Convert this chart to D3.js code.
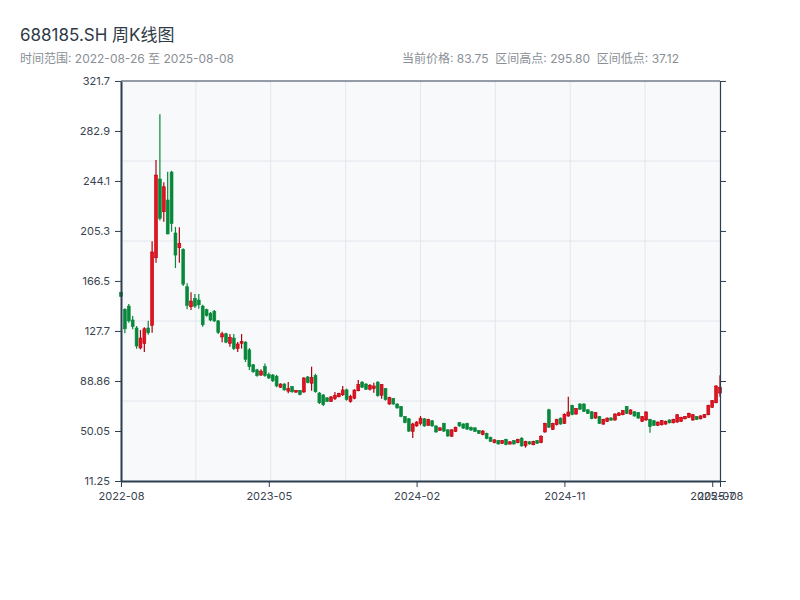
<!DOCTYPE html>
<html><head><meta charset="utf-8">
<script src="https://cdn.jsdelivr.net/npm/d3@7/dist/d3.min.js"></script>
<style>
body{margin:0;background:#fff;}
text{font-family:Inter,"Noto Sans CJK SC",sans-serif;}
</style>
</head><body>
<svg id="chart" width="800" height="600"></svg>
<script>
// ---- data ----
const startDate = "2022-08-26";
const opens  = [157.6,144.5,147.0,136.2,130.0,114.5,118.1,130.0,132.1,184.5,245.6,220.2,229.3,251.0,203.7,192.3,191.0,162.0,146.5,153.0,151.7,147.0,144.2,141.5,143.0,135.5,
123,125.5,118.1,122.2,114,118.1,119.1,113,101.5,97.5,93.5,100,93.8,93.5,92.5,84,86.5,81,84.5,80.2,81.5,80.3,92,87.1,93,79.5,
78,75.8,73,75.2,76.6,78.2,82,73,75.5,81.3,88,86.5,82.5,82.9,88,77.8,83,71,75.3,71,69,61.2,59.5,49.8,
54,56,59.5,54.5,58,54,50.6,56,51,46,49.8,56.5,55.5,56,52.8,52.5,50.5,47.2,48.3,45.2,41,42.7,40.4,43.6,39.9,42.6,
41,44.5,38.5,41.7,39.4,42.6,41,49.3,66.5,51.3,55,60,56,61.7,70,63.2,71,71,66.5,65,60.1,61.2,55.4,57.4,60.2,
58.6,62.2,62.7,69,63.2,65,64.3,57.5,58.6,59,58,54.5,54.9,55.4,58.6,56.4,57,57.5,59.5,60.6,58.6,61.3,59.5,60.6,62.7,68.4,72,79.5];
const highs  = [158.0,145.3,148.6,139.3,131.5,128.4,130.5,135.7,197.3,260.4,295.8,243.1,251.3,252.0,208.4,208.1,191.8,164.7,157.7,156.4,156.4,148.0,145.0,142.4,143.9,136.2,
127,126.3,125.3,125.3,119.1,125.3,119.6,114.5,102,98.4,98,102.5,95.5,94.3,93.7,87.1,87.1,88.1,85,81.9,81.9,91.7,92.7,100,94.5,80.3,
78.8,76.2,77.2,80.3,79.8,85,82.9,78.2,82.4,89.6,88.6,87.1,86.5,87.5,88.6,86.5,83.4,76.7,75.7,71.5,69.5,61.7,60.1,56.5,
57.6,61.7,60.1,59.6,58.6,54.4,52.9,56.5,51.3,51.3,53.4,57,56,56.5,53.5,52.9,50.8,50.8,48.7,45.6,43.6,43.1,43.1,44.1,42.1,43.1,
44.1,45.2,42.5,42.1,42.5,43.1,46.7,56.5,67.4,56.5,59.6,60.6,63.8,76.7,70.5,67.9,71.5,71.5,66.9,65.3,64.8,61.7,59.6,60.6,60.6,
63.8,64.8,66.4,69.5,66.9,65.3,64.8,61.7,65.3,59.6,58.6,57.5,58.6,58.1,59.1,59.6,63.2,61.2,61.7,64.3,63.2,61.7,62.2,63.2,70.5,74.1,85.5,93.3];
const lows   = [154.3,125.9,134.1,129.0,113.9,113.4,111.4,124.8,126.3,180.7,213.5,212.5,202.7,204.7,176.5,180.7,162.5,144.5,143.9,145.5,145.0,130.9,138.8,135.2,134.6,125.3,
119,118.1,115.5,112.9,111.4,114,103.6,97.4,95.3,92.2,92.7,92.2,90.5,88.1,84,83.4,81.3,79.3,79.8,79.8,77.8,79.8,87.1,81.3,79.8,71,
69.5,72.6,72.6,74.1,76.2,77.2,73.6,72,74.7,80.9,83.4,81.9,81.5,79.8,76.7,75.1,73.6,70.5,70.5,67.4,60.7,56,49.3,44.6,
53.4,54.4,53.4,53.9,53.4,48.7,50.3,49.3,45.6,45.6,49.3,53.4,51.8,50.8,50.2,49.3,47.7,46.7,43.6,41.5,40.5,39.5,40,38.9,39.5,39.5,
40.5,37.9,37.12,39.5,38.9,40,40.5,48.7,52.4,50.8,54.4,54.9,55.5,61.2,62.2,62.7,66.4,64.8,63.2,59.1,59.6,55.5,54.9,57,58.1,
58,61.7,62.2,63.2,62.7,61.2,59.6,57,58,48.7,53.9,54,54.4,55,56,56,56.5,57,59.1,60.1,58,58.6,59.1,60.1,62.2,67.9,71.5,76.7];
const closes = [154.6,129.4,135.5,131.0,116.0,122.2,129.4,126.3,189.0,248.7,215.1,239.6,203.0,211.0,186.6,195.7,164.0,147.5,150.9,147.0,148.0,132.5,139.6,136.2,135.5,126.5,
125.5,119,122.8,114,117.6,119.6,105.7,100,96,93,96.5,93,91.2,89,85,86.5,82,83,80.5,81.6,78.3,91.2,87.6,91.7,80.5,72,
70.5,73,76.5,77.8,79.3,81.9,74.5,77,81.8,86,84,82.5,85.5,85,77.5,86,74.5,76,71,68,61.5,56.5,50,55.5,
57,60,54,59,54,49.3,52.5,50,46.2,51,53,54,52.3,51.5,50.8,49.8,48.2,50,44.2,42,43.2,40,42.7,39.5,41.7,40,
43.6,38.5,42,40,42,40.5,46,56,53,56,59,55.5,63,64.8,62.8,67.4,67,65.3,63.7,59.6,64.3,56,59.1,60.1,58.5,
63.2,64,65.9,63.7,66.4,61.7,60.1,61.2,64.8,53.5,54.5,57,58.1,57.6,56.4,59.1,62.7,60.7,61.3,63.8,62.7,59,61.8,62.8,70,73.6,85,83.75];
const xTickIndex  = [0, 38, 76, 114, 152, 154];
const yTickLabels = ["11.25","50.05","88.86","127.7","166.5","205.3","244.1","282.9","321.7"];

// ---- derived ----
const N = closes.length;
const t0 = d3.timeParse("%Y-%m-%d")(startDate);
const dates = d3.range(N).map(i => d3.timeDay.offset(t0, 7 * i));
const fmtDay = d3.timeFormat("%Y-%m-%d"), fmtMonth = d3.timeFormat("%Y-%m");
const hi = d3.max(highs), lo = d3.min(lows), pad = (hi - lo) * 0.1;

const L = 121, R = 720, T = 81, B = 481;
const FONT = 'Inter,"Noto Sans CJK SC",sans-serif';
const svg = d3.select("#chart");
const x = d3.scalePoint().domain(d3.range(N)).range([L, R]);
const y = d3.scaleLinear().domain([lo - pad, hi + pad]).range([B, T]);

const axisColor = "#2c3e50";

// title
svg.append("text").attr("x", 20).attr("y", 41).attr("font-size", 17).attr("fill", "#2f3a45")
  .text("688185.SH 周K线图");
svg.append("text").attr("x", 20).attr("y", 63).attr("font-size", 12).attr("fill", "#8a8f96")
  .text(`时间范围: ${fmtDay(dates[0])} 至 ${fmtDay(dates[N-1])}`);
svg.append("text").attr("x", 679).attr("y", 63).attr("font-size", 12).attr("fill", "#8a8f96")
  .attr("text-anchor", "end").attr("xml:space", "preserve")
  .text(`当前价格: ${closes[N-1].toFixed(2)}  区间高点: ${hi.toFixed(2)}  区间低点: ${lo.toFixed(2)}`);

// plot background + grid
svg.append("rect").attr("x", L).attr("y", T).attr("width", R - L).attr("height", B - T).attr("fill", "#f7f9fb");
const grid = svg.append("g").attr("stroke", "#e3e7ec").attr("stroke-width", 1);
d3.range(1, 8).forEach(k => {
  const gx = L + (R - L) * k / 8;
  grid.append("line").attr("x1", gx).attr("x2", gx).attr("y1", T).attr("y2", B);
});
d3.range(1, 5).forEach(k => {
  const gy = T + (B - T) * k / 5;
  grid.append("line").attr("x1", L).attr("x2", R).attr("y1", gy).attr("y2", gy);
});

// candles
const bw = 2.9;
const up = "#e8111e", upStroke = "#b3000d", down = "#07883a";
const g = svg.append("g");
d3.range(N).forEach(i => {
  const o = opens[i], c = closes[i], isUp = c >= o;
  const col = isUp ? up : down;
  g.append("line").attr("x1", x(i)).attr("x2", x(i)).attr("y1", y(highs[i])).attr("y2", y(lows[i]))
    .attr("stroke", isUp ? upStroke : down).attr("stroke-width", 1.2);
  const yt = y(Math.max(o, c)), yb = y(Math.min(o, c));
  g.append("rect").attr("x", x(i) - bw / 2).attr("y", yt).attr("width", bw).attr("height", Math.max(1, yb - yt))
    .attr("fill", col).attr("stroke", isUp ? upStroke : down).attr("stroke-width", 0.6);
});

// axes
function styleAxis(sel, w) {
  sel.select(".domain").attr("stroke", axisColor).attr("stroke-width", w);
  sel.selectAll(".tick line").attr("stroke", axisColor);
  sel.selectAll(".tick text").attr("fill", "#3a4450").attr("font-size", 11).attr("font-family", FONT);
}
const yAxis = svg.append("g").attr("transform", `translate(${L},0)`)
  .call(d3.axisLeft(y).tickValues(yTickLabels.map(Number)).tickFormat((d, i) => yTickLabels[i]).tickSizeOuter(0).tickPadding(5));
styleAxis(yAxis, 2);
const yAxisR = svg.append("g").attr("transform", `translate(${R},0)`)
  .call(d3.axisRight(y).tickValues(yTickLabels.map(Number)).tickFormat("").tickSizeOuter(0));
styleAxis(yAxisR, 1.2);
svg.append("line").attr("x1", L).attr("x2", R).attr("y1", T).attr("y2", T).attr("stroke", axisColor).attr("stroke-width", 1.2);
const xAxis = svg.append("g").attr("transform", `translate(0,${B})`)
  .call(d3.axisBottom(x).tickValues(xTickIndex).tickFormat(i => fmtMonth(dates[i])).tickSizeOuter(0).tickPadding(5));
styleAxis(xAxis, 2);
</script>
</body></html>
